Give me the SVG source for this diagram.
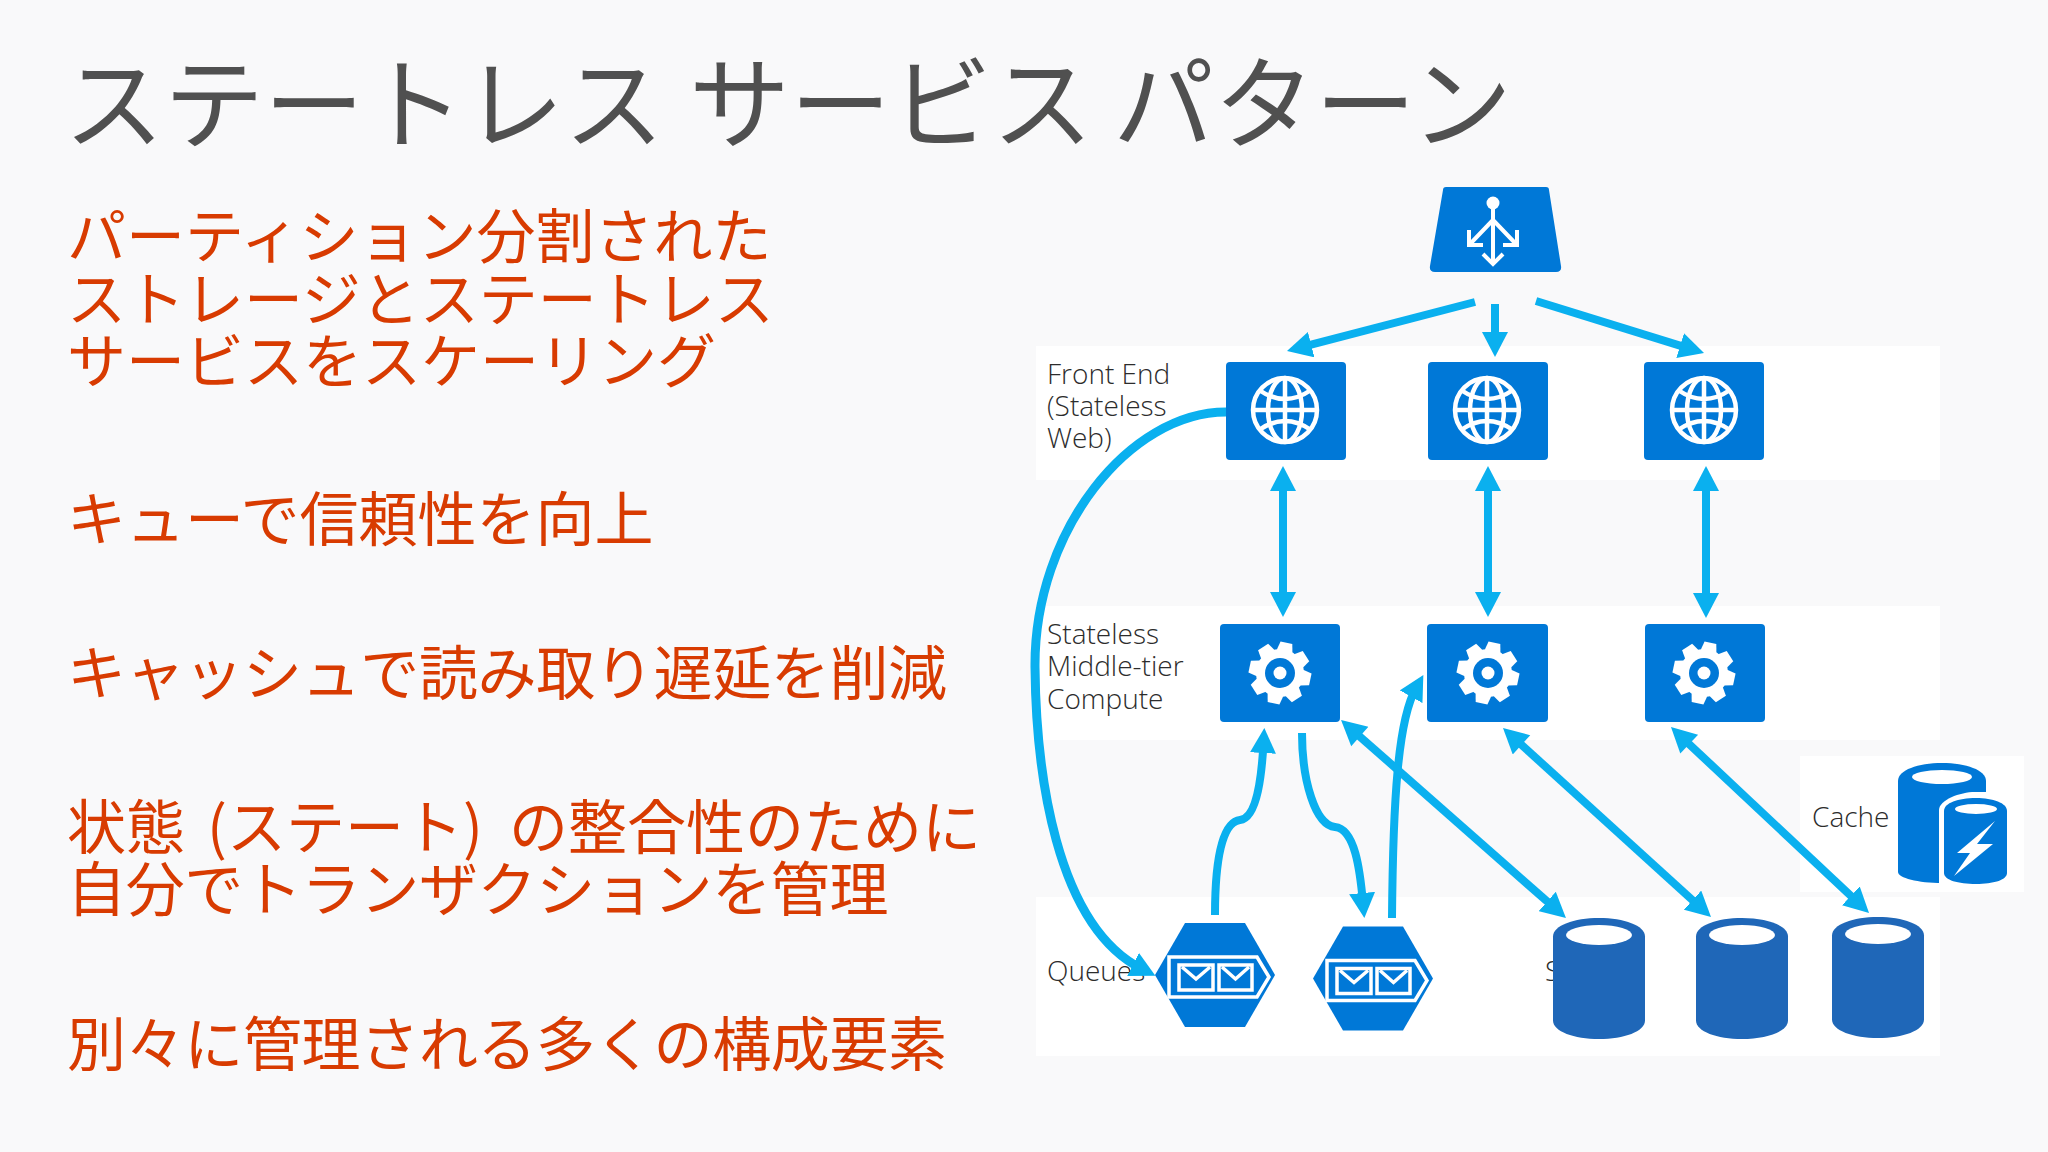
<svg xmlns="http://www.w3.org/2000/svg" width="2048" height="1152" viewBox="0 0 2048 1152">
<style>
.t{font-family:"Noto Sans CJK JP","Noto Sans",sans-serif;font-weight:400}
.title{font-size:101px;fill:#505050}
.b{font-size:59px;fill:#d83b01}
.n{letter-spacing:-.35px}
.l{font-family:"Open Sans","Noto Sans",sans-serif;font-weight:300;font-size:28px;fill:#2c2c2c}
.panel{fill:#fff}
.tile{fill:#0078d7}
.cyl{fill:#1f67b8}
.w{fill:none;stroke:#fff;stroke-width:4.5}
.box{fill:none;stroke:#fff;stroke-width:3.5}
.c{fill:none;stroke:#0ab0ef;stroke-width:8}
</style>
<defs>
<marker id="h" markerUnits="userSpaceOnUse" markerWidth="26" markerHeight="26" refX="10" refY="13" orient="auto"><path d="M0 0L25 13L0 26z" fill="#0ab0ef"/></marker>
<marker id="hs" markerUnits="userSpaceOnUse" markerWidth="26" markerHeight="26" refX="15" refY="13" orient="auto"><path d="M25 0L0 13L25 26z" fill="#0ab0ef"/></marker>
<g id="globe" class="w"><circle r="32"/><ellipse rx="17" ry="32"/><path d="M0-32V32M-32 0H32M-26-20Q0-2 26-20M-26 20Q0 2 26 20"/></g>
<path id="tooth" d="M-8-22L-6-31H6L8-22z" fill="#fff"/>
<g id="gear"><circle r="24" fill="#fff"/><use href="#tooth" transform="rotate(12)"/><use href="#tooth" transform="rotate(57)"/><use href="#tooth" transform="rotate(102)"/><use href="#tooth" transform="rotate(147)"/><use href="#tooth" transform="rotate(192)"/><use href="#tooth" transform="rotate(237)"/><use href="#tooth" transform="rotate(282)"/><use href="#tooth" transform="rotate(327)"/><circle r="15" fill="#0078d7"/><circle r="6.500" fill="#fff"/></g>
<g id="mail" class="box"><rect x="-36" y="-10" width="34" height="25"/><path d="M-33-8L-19 4L-5-8"/><rect x="4" y="-10" width="33" height="25"/><path d="M7-8L20.500 4L34-8"/></g>
<path id="hex" d="M-30-52H30L60 0L30 52H-30L-60 0z"/>
<path id="bigcyl" d="M-46-42C-46-53-25-60.500 0-60.500C25-60.500 46-53 46-42V42C46 53 25 60.500 0 60.500C-25 60.500-46 53-46 42z"/>
</defs>
<rect width="2048" height="1152" fill="#f9f9fa"/>
<rect class="panel" x="1036" y="346" width="904" height="134"/>
<rect class="panel" x="1036" y="606" width="904" height="134"/>
<rect class="panel" x="1036" y="897" width="904" height="159"/>
<rect class="panel" x="1800" y="756" width="224" height="136"/>
<text class="t title" y="141"><tspan x="64" font-size="100" style="font-size:100px">ステートレス</tspan><tspan x="689">サービス</tspan><tspan x="1113">パターン</tspan></text>
<g class="t b">
<text x="67" y="258">パーティション分割された</text>
<text x="67" y="321">ストレージとステートレス</text>
<text x="67" y="383">サービスをスケーリング</text>
<text x="67" y="541">キューで信頼性を向上</text>
<text class="n" x="67" y="695">キャッシュで読み取り遅延を削減</text>
<text y="849"><tspan x="67">状態</tspan><tspan x="207">(ステート)</tspan><tspan x="509">の整合性のために</tspan></text>
<text class="n" x="67" y="911">自分でトランザクションを管理</text>
<text class="n" x="67" y="1066">別々に管理される多くの構成要素</text>
</g>
<g id="labels" class="l">
<text x="1047" y="384">Front End</text><text x="1047" y="416">(Stateless</text><text x="1047" y="448">Web)</text>
<text x="1047" y="644">Stateless</text><text x="1047" y="676">Middle-tier</text><text x="1047" y="709">Compute</text>
<text x="1047" y="981">Queues</text>
<text x="1545" y="981">S</text>
<text x="1812" y="827">Cache</text>
</g>
<g id="lb"><path class="tile" d="M1446 187H1546Q1549 187 1549 190L1561 266Q1562 272 1556 272H1435Q1429 272 1430 266L1443 190Q1443 187 1446 187z"/>
<circle cx="1493" cy="203" r="6.500" fill="#fff"/><path fill="none" stroke="#fff" stroke-width="4" d="M1493 205V262M1493 220L1470 244M1493 220L1516 244M1469 230V245H1483M1517 230V245H1503M1483 254L1493 264L1503 254"/></g>
<g id="fe1"><rect class="tile" x="1226" y="362" width="120" height="98" rx="4"/><use href="#globe" x="1285" y="410"/></g>
<g id="fe2"><rect class="tile" x="1428" y="362" width="120" height="98" rx="4"/><use href="#globe" x="1487" y="410"/></g>
<g id="fe3"><rect class="tile" x="1644" y="362" width="120" height="98" rx="4"/><use href="#globe" x="1704" y="410"/></g>
<g id="mid1"><rect class="tile" x="1220" y="624" width="120" height="98" rx="4"/><use href="#gear" x="1280" y="673"/></g>
<g id="mid2"><rect class="tile" x="1427" y="624" width="121" height="98" rx="4"/><use href="#gear" x="1488" y="673"/></g>
<g id="mid3"><rect class="tile" x="1645" y="624" width="120" height="98" rx="4"/><use href="#gear" x="1704" y="673"/></g>
<g id="connectors" class="c">
<path d="M1475 302L1301.500 347.200" marker-end="url(#h)"/>
<path d="M1495 304V342" marker-end="url(#h)"/>
<path d="M1536 301L1689.700 348.600" marker-end="url(#h)"/>
<path d="M1283 481V602" marker-start="url(#hs)" marker-end="url(#h)"/>
<path d="M1488 481V602" marker-start="url(#hs)" marker-end="url(#h)"/>
<path d="M1706 481V603" marker-start="url(#hs)" marker-end="url(#h)"/>
<path d="M1226 412C1130 412 1034 530 1035 667C1036 770 1055 925 1142 969" stroke-width="9" style="stroke-width:9px" marker-end="url(#h)"/>
<path d="M1215 915C1215 860 1222 822 1240 820C1258 818 1262 770 1263.500 743" marker-end="url(#h)"/>
<path d="M1302 733C1302 780 1315 825 1335 827C1355 829 1360 870 1363 903" marker-end="url(#h)"/>
<path d="M1392 918C1393 800 1398 720 1416 688" marker-end="url(#h)"/>
<path d="M1352.300 729.900L1554.700 908.100" marker-start="url(#hs)" marker-end="url(#h)"/>
<path d="M1514.100 738.100L1699.900 906.900" marker-start="url(#hs)" marker-end="url(#h)"/>
<path d="M1681.900 737.300L1858.100 902.700" marker-start="url(#hs)" marker-end="url(#h)"/>
</g>
<g id="q1"><use href="#hex" x="1215" y="975" class="tile"/><path class="box" d="M1169 957H1257L1269 977L1257 997H1169z"/><use href="#mail" x="1215" y="975"/></g>
<g id="q2"><use href="#hex" x="1373" y="978.500" class="tile"/><path class="box" d="M1327 960.500H1415L1427 980.500L1415 1000.500H1327z"/><use href="#mail" x="1373" y="978.500"/></g>
<g id="s1"><use href="#bigcyl" x="1599" y="978.500" class="cyl"/><ellipse cx="1599" cy="935" rx="33" ry="10" fill="#fff"/></g>
<g id="s2"><use href="#bigcyl" x="1742" y="978.500" class="cyl"/><ellipse cx="1742" cy="935" rx="33" ry="10" fill="#fff"/></g>
<g id="s3"><use href="#bigcyl" x="1878" y="977.500" class="cyl"/><ellipse cx="1878" cy="934" rx="33" ry="10" fill="#fff"/></g>
<g id="cache">
<path class="tile" d="M1898 781C1898 770 1918 763 1942 763C1966 763 1986 770 1986 781V872C1986 878 1966 883 1942 883C1918 883 1898 878 1898 872z"/>
<path d="M1939 888V810C1939 800 1960 792 1975 792H2015V888z" fill="#fff"/>
<path class="tile" d="M1944 811C1944 803 1958 798 1976 798C1993 798 2007 803 2007 811V873C2007 880 1993 884 1976 884C1958 884 1944 880 1944 873z"/>
<ellipse cx="1942" cy="777" rx="30" ry="7" fill="#fff"/><ellipse cx="1976" cy="809" rx="21" ry="5" fill="#fff"/>
<path fill="#fff" d="M1995 821L1957 853H1970L1954 876L1993 844H1977z"/></g>
</svg>
